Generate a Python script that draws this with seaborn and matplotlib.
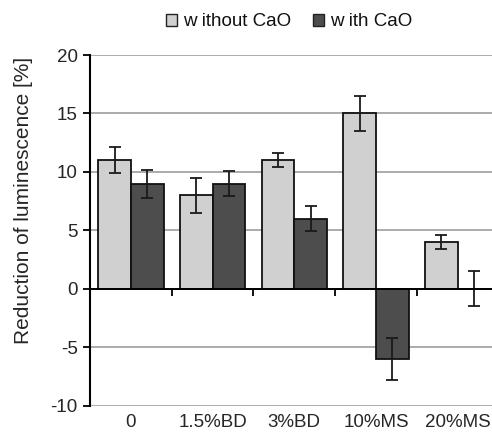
import matplotlib
matplotlib.use("Agg")
import matplotlib.pyplot as plt
import seaborn as sns
import pandas as pd
import numpy as np
from matplotlib.patches import Patch

categories = ["0", "1.5%BD", "3%BD", "10%MS", "20%MS"]
series_names = ["w ithout CaO", "w ith CaO"]
without_cao = [11, 8, 11, 15, 4]
with_cao = [9, 9, 6, -6, 0]
without_err = [1.1, 1.5, 0.6, 1.5, 0.6]
with_err = [1.2, 1.1, 1.05, 1.8, 1.5]
colors = ["#d0d0d0", "#4d4d4d"]

df = pd.DataFrame({
    "cat": categories * 2,
    "series": [series_names[0]] * 5 + [series_names[1]] * 5,
    "value": without_cao + with_cao,
})

sns.set_style("white")
plt.rcParams["font.family"] = ["Liberation Sans", "DejaVu Sans"]
plt.rcParams["text.color"] = "#111111"

fs = 13.5
fig = plt.figure(figsize=(4.92, 4.36), dpi=100)
W, H = 492, 436
left, right, top, bottom = 90, 498.5, 55, 405.7
ax = fig.add_axes([left / W, (H - bottom) / H, (right - left) / W, (bottom - top) / H])

sns.barplot(data=df, x="cat", y="value", hue="series", order=categories,
            hue_order=series_names, palette=colors, errorbar=None,
            edgecolor="#111111", linewidth=1.3, width=0.8, gap=0, ax=ax, legend=False,
            zorder=3)

errs = [without_err, with_err]
for cont, e in zip(ax.containers, errs):
    xs = [b.get_x() + b.get_width() / 2 for b in cont]
    ys = [b.get_height() for b in cont]
    ax.errorbar(xs, ys, yerr=e, fmt="none", ecolor="#1a1a1a", elinewidth=1.3,
                capsize=4.5, capthick=1.3, zorder=4)

ax.set_xlim(-0.5, 4.5)
ax.set_ylim(-10, 20)
ax.set_yticks(np.arange(-10, 21, 5))
ax.set_yticklabels([str(v) for v in range(-10, 21, 5)], fontsize=fs)
ax.yaxis.grid(True, color="#ababab", linewidth=1.4, zorder=0)
ax.set_axisbelow(True)
ax.tick_params(axis="y", direction="out", length=5, width=1.3, color="black",
               left=True, pad=4)

for s in ["top", "right"]:
    ax.spines[s].set_visible(False)
ax.spines["left"].set_color("black")
ax.spines["left"].set_linewidth(1.5)
ax.spines["bottom"].set_position(("data", 0))
ax.spines["bottom"].set_color("black")
ax.spines["bottom"].set_linewidth(1.4)
ax.spines["bottom"].set_zorder(5)

ax.set_xticks([0.5, 1.5, 2.5, 3.5, 4.5])
ax.set_xticklabels([])
ax.tick_params(axis="x", direction="out", length=5, width=1.3, color="black",
               bottom=True)
ax.set_xlabel("")

sec = ax.secondary_xaxis(location=0.0)
sec.set_xticks(range(len(categories)))
sec.set_xticklabels(categories, fontsize=fs)
sec.tick_params(length=0, pad=6)
sec.spines["bottom"].set_visible(False)

ax.set_ylabel("Reduction of luminescence [%]", fontsize=15)
ax.yaxis.set_label_coords((33 - left) / (right - left), (bottom - 200) / (bottom - top))

handles = [Patch(facecolor=c, edgecolor="#222222", linewidth=1.0) for c in colors]
fig.legend(handles, series_names, loc="center", bbox_to_anchor=(289 / W, 1 - 22 / H),
           ncol=2, frameon=False, fontsize=fs, handlelength=0.6, handleheight=0.6,
           handletextpad=0.3, columnspacing=1.2)

fig.savefig("out.png", dpi=100)
